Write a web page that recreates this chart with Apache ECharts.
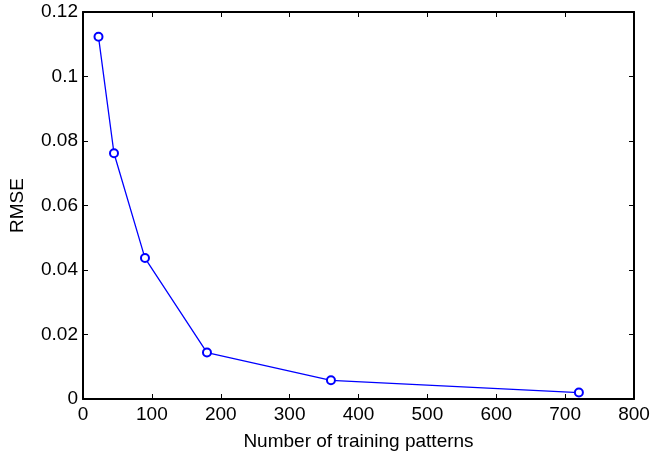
<!DOCTYPE html>
<html>
<head>
<meta charset="utf-8">
<script src="https://cdn.jsdelivr.net/npm/echarts@6/dist/echarts.min.js"></script>
<style>
  html, body { margin: 0; padding: 0; background: #fff; }
  #main { width: 653px; height: 458px; }
</style>
</head>
<body>
<div id="main"></div>
<script>
// training set sizes and the error
const patterns = [22.5, 45, 90, 180, 360, 720]
const rmse = [0.1123, 0.0762, 0.0437, 0.0144, 0.0058, 0.0020]
const xTicks = { min: 0, max: 800, step: 100 }
const yTicks = { min: 0, max: 0.12, step: 0.02 }

const chart = echarts.init(document.getElementById('main'))
const font = 'Liberation Sans, Arial, sans-serif'
const black = '#000'

function boxAxis(range, pos, show, margin) {
  return {
    type: 'value',
    position: pos,
    min: range.min,
    max: range.max,
    interval: range.step,
    axisLine: { show: true, onZero: false, lineStyle: { color: black, width: 2 } },
    axisTick: { show: true, inside: true, length: 5, lineStyle: { color: black } },
    axisLabel: { show: show, color: black, fontFamily: font, fontSize: 19, margin: margin },
    splitLine: { show: false }
  }
}

chart.setOption({
  animation: false,
  grid: { left: 83, right: 19, top: 12, bottom: 59, containLabel: false },
  xAxis: [
    Object.assign(boxAxis(xTicks, 'bottom', true, 6), {
      name: 'Number of training patterns',
      nameLocation: 'middle',
      nameGap: 33,
      nameTextStyle: { color: black, fontFamily: font, fontSize: 19 }
    }),
    boxAxis(xTicks, 'top', false, 6)
  ],
  yAxis: [
    Object.assign(boxAxis(yTicks, 'left', true, 5), {
      name: 'RMSE',
      nameLocation: 'middle',
      nameGap: 56,
      nameTextStyle: { color: black, fontFamily: font, fontSize: 19 }
    }),
    boxAxis(yTicks, 'right', false, 5)
  ],
  series: [
    {
      type: 'line',
      data: patterns.map((x, i) => [x, rmse[i]]),
      symbol: 'emptyCircle',
      symbolSize: 8,
      showAllSymbol: true,
      lineStyle: { color: '#0000ff', width: 1.3 },
      itemStyle: { color: '#0000ff', borderColor: '#0000ff', borderWidth: 1 }
    }
  ]
})
</script>
</body>
</html>
